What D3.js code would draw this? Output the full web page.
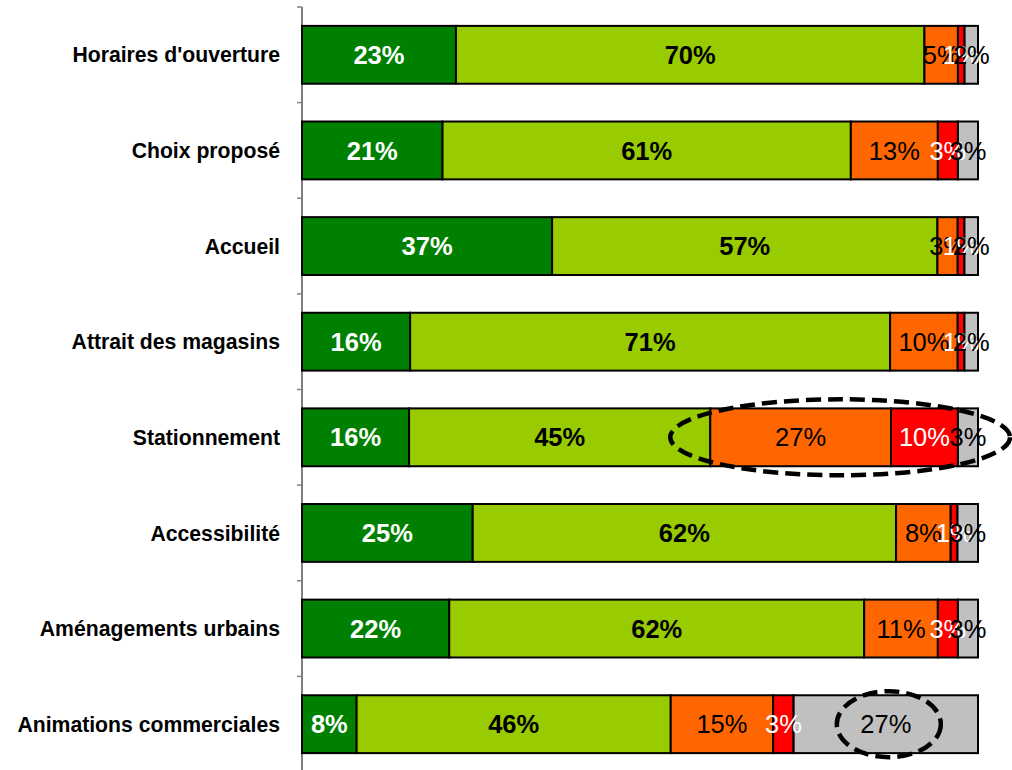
<!DOCTYPE html>
<html>
<head>
<meta charset="utf-8">
<script src="https://cdn.jsdelivr.net/npm/d3@7"></script>
<style>
  body { margin: 0; background: #fff; }
  text { font-family: "Liberation Sans", Arial, sans-serif; }
</style>
</head>
<body>
<script>
// Chart data
var categories = ["Horaires d'ouverture", "Choix proposé", "Accueil", "Attrait des magasins",
    "Stationnement", "Accessibilité", "Aménagements urbains", "Animations commerciales"];
var seriesKeys = ["tres", "plutot", "peu", "pas", "nsp"];
var tresSatisfait = [23, 21, 37, 16, 16, 25, 22, 8];
var plutotSatisfait = [70, 61, 57, 71, 45, 62, 62, 46];
var peuSatisfait = [5, 13, 3, 10, 27, 8, 11, 15];
var pasSatisfait = [1, 3, 1, 1, 10, 1, 3, 3];
var nspValues = [2, 3, 2, 2, 3, 3, 3, 27];
// highlighted segments (category, series)
var highlights = [
    { cat: "Stationnement", from: "peu", to: "nsp" },
    { cat: "Animations commerciales", from: "nsp", to: "nsp" }
];

var svgWidth = 1012;
var svgHeight = 770;
var margin = { left: 302, right: 34, top: 7, bottom: -2 };

var colors = {
    tres: "#008000", plutot: "#99CC00", peu: "#FF6600", pas: "#FF0000", nsp: "#C0C0C0"
};
var labelStyle = {
    tres: { fill: "#fff", weight: "bold" },
    plutot: { fill: "#000", weight: "bold" },
    peu: { fill: "#000", weight: "normal" },
    pas: { fill: "#fff", weight: "normal" },
    nsp: { fill: "#000", weight: "normal" }
};

var data = categories.map(function (c, i) {
    return { cat: c, tres: tresSatisfait[i], plutot: plutotSatisfait[i], peu: peuSatisfait[i],
        pas: pasSatisfait[i], nsp: nspValues[i] };
});

var svg = d3.select("body").append("svg")
    .attr("width", svgWidth)
    .attr("height", svgHeight);

var xScale = d3.scaleLinear()
    .domain([0, 1])
    .range([margin.left, svgWidth - margin.right]);

var yScale = d3.scaleBand()
    .domain(categories)
    .range([margin.top, svgHeight - margin.bottom])
    .paddingInner(0.395)
    .paddingOuter(0.1975);

var stack = d3.stack().keys(seriesKeys).offset(d3.stackOffsetExpand);
var stacked = stack(data);

// axis line and ticks at category boundaries
svg.append("line")
    .attr("x1", margin.left).attr("x2", margin.left)
    .attr("y1", margin.top).attr("y2", svgHeight)
    .attr("stroke", "#000").attr("stroke-width", 1);

var step = yScale.step();
var boundaries = d3.range(categories.length + 1).map(i => margin.top + i * step);
svg.selectAll(".tick")
    .data(boundaries)
    .enter().append("line")
    .attr("x1", margin.left - 5).attr("x2", margin.left)
    .attr("y1", d => d).attr("y2", d => d)
    .attr("stroke", "#808080").attr("stroke-width", 1.5);

// category labels
svg.selectAll(".catLabel")
    .data(categories)
    .enter().append("text")
    .attr("x", 280)
    .attr("y", d => yScale(d) + yScale.bandwidth() / 2)
    .attr("dy", "0.36em")
    .attr("text-anchor", "end")
    .attr("font-size", 21.2)
    .attr("font-weight", "bold")
    .text(d => d);

// bars
var groups = svg.selectAll(".series")
    .data(stacked)
    .enter().append("g")
    .attr("fill", d => colors[d.key]);

groups.selectAll("rect")
    .data(d => d.map(p => ({ key: d.key, p: p })))
    .enter().append("rect")
    .attr("x", d => xScale(d.p[0]))
    .attr("y", d => yScale(d.p.data.cat))
    .attr("width", d => xScale(d.p[1]) - xScale(d.p[0]))
    .attr("height", yScale.bandwidth())
    .attr("stroke", "#000")
    .attr("stroke-width", 2);

// value labels
stacked.forEach(function (s) {
    svg.selectAll(".lbl-" + s.key)
        .data(s)
        .enter().append("text")
        .attr("x", d => (xScale(d[0]) + xScale(d[1])) / 2)
        .attr("y", d => yScale(d.data.cat) + yScale.bandwidth() / 2)
        .attr("dy", "0.36em")
        .attr("text-anchor", "middle")
        .attr("font-size", 25.5)
        .attr("font-weight", labelStyle[s.key].weight)
        .attr("fill", labelStyle[s.key].fill)
        .text(d => d.data[s.key] + "%");
});

// dashed ellipses
highlights.forEach(function (h) {
    var i = categories.indexOf(h.cat);
    var sFrom = stacked.find(s => s.key === h.from)[i];
    var sTo = stacked.find(s => s.key === h.to)[i];
    var x0 = xScale(sFrom[0]), x1 = xScale(sTo[1]);
    var cy = yScale(h.cat) + yScale.bandwidth() / 2;
    var cx, rx, ry;
    if (h.from === h.to) {
        cx = (x0 + x1) / 2 + 3;
        rx = 52;
        ry = 33;
    } else {
        x0 -= 40; x1 += 32;
        cx = (x0 + x1) / 2;
        rx = (x1 - x0) / 2;
        ry = 38;
    }
    svg.append("ellipse")
        .attr("cx", cx).attr("cy", cy)
        .attr("rx", rx).attr("ry", ry)
        .attr("fill", "none")
        .attr("stroke", "#000")
        .attr("stroke-width", 4.5)
        .attr("stroke-dasharray", "15,7");
});
</script>
</body>
</html>
